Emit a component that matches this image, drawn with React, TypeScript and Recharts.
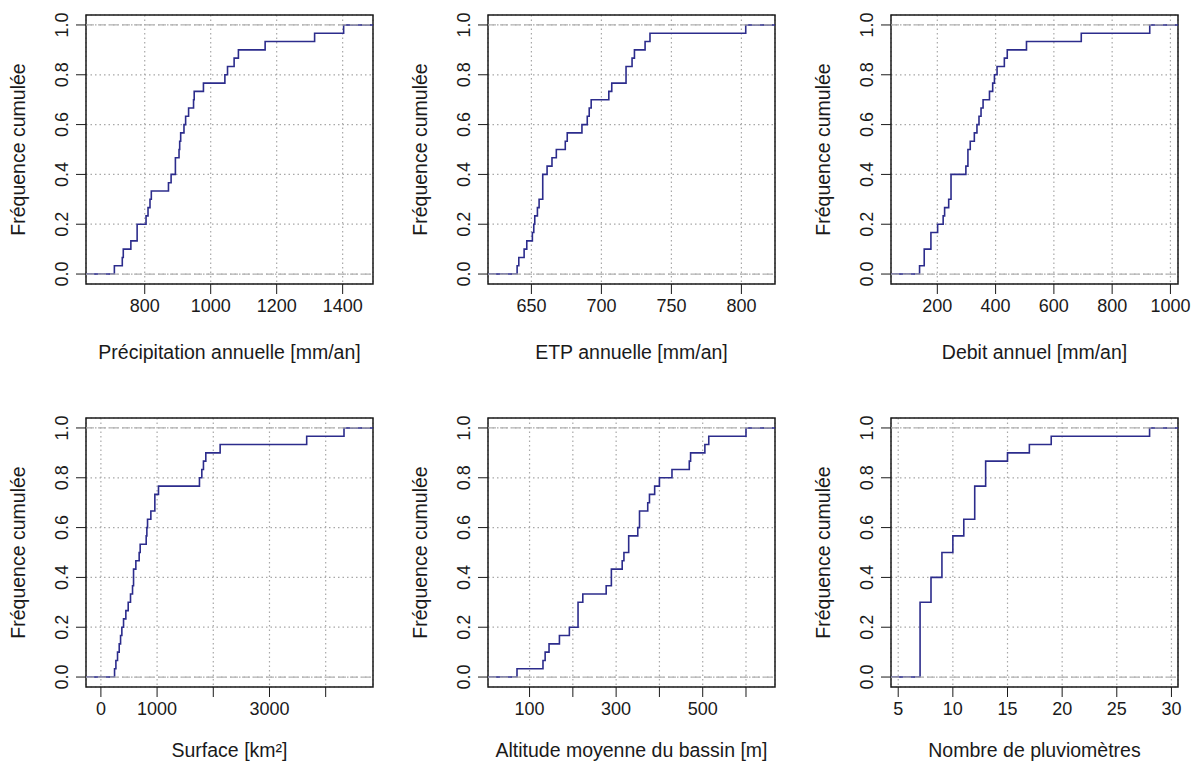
import { LineChart, Line, XAxis, YAxis, CartesianGrid, ReferenceLine, ReferenceArea, Label } from "recharts";

// sorted observations (30 basins), read from the ECDF steps
const precipitation = [708, 732, 735, 758, 777, 777, 804, 810, 816, 820, 872, 880, 893, 893, 904, 906, 909, 919, 924, 933, 948, 950, 978, 1043, 1051, 1071, 1084, 1165, 1315, 1403];
const etp = [639.8, 641, 644.8, 646.7, 650.7, 651.7, 652.4, 654.3, 655.5, 658.1, 658.1, 658.1, 661.2, 664.7, 667.8, 674.2, 675.6, 686.1, 689.9, 691.3, 692.7, 705.3, 707.4, 717.6, 717.6, 721.9, 723.6, 731.2, 734.7, 803.1];
const debit = [139, 155, 155, 178, 178, 201, 220, 225, 239, 247, 247, 247, 298, 305, 305, 313, 327, 336, 343, 350, 357, 379, 390, 396, 405, 430, 440, 506, 694, 929];
const surface = [243, 267, 296, 326, 350, 373, 403, 444, 486, 527, 563, 581, 581, 622, 681, 699, 806, 818, 830, 889, 960, 960, 1025, 1754, 1796, 1825, 1867, 2122, 3662, 4326];
const altitude = [71, 131, 136, 145, 169, 192, 212, 212, 212, 223, 277, 289, 289, 314, 318, 329, 329, 350, 354, 354, 373, 377, 389, 400, 429, 469, 472, 505, 514, 600];
const pluvio = [7, 7, 7, 7, 7, 7, 7, 7, 7, 8, 8, 8, 9, 9, 9, 10, 10, 11, 11, 12, 12, 12, 12, 13, 13, 13, 15, 17, 19, 28];

const yTicks = [0, 0.2, 0.4, 0.6, 0.8, 1];

const panels = [
  { title: "Précipitation annuelle [mm/an]", values: precipitation, domain: [622, 1492], ticks: [800, 1000, 1200, 1400], labels: [800, 1000, 1200, 1400] },
  { title: "ETP annuelle [mm/an]", values: etp, domain: [619, 824], ticks: [650, 700, 750, 800], labels: [650, 700, 750, 800] },
  { title: "Debit annuel [mm/an]", values: debit, domain: [41, 1026], ticks: [200, 400, 600, 800, 1000], labels: [200, 400, 600, 800, 1000] },
  { title: "Surface [km²]", values: surface, domain: [-265, 4842], ticks: [0, 1000, 2000, 3000, 4000], labels: [0, 1000, 3000] },
  { title: "Altitude moyenne du bassin [m]", values: altitude, domain: [4, 667], ticks: [100, 200, 300, 400, 500, 600], labels: [100, 300, 500] },
  { title: "Nombre de pluviomètres", values: pluvio, domain: [4.34, 30.6], ticks: [5, 10, 15, 20, 25, 30], labels: [5, 10, 15, 20, 25, 30] },
];

const INK = "#1a1a1a";
const FONT = 18;
const TITLE_FONT = 19.5;

function ecdf(values: number[], domain: number[]) {
  const n = values.length;
  return [
    { x: domain[0], y: 0 },
    ...values.map((v, i) => ({ x: v, y: (i + 1) / n })),
    { x: domain[1], y: 1 },
  ];
}

function Panel({ p, left, top, titleGap }: { p: any; left: number; top: number; titleGap: number }) {
  const data = ecdf(p.values, p.domain);
  return (
    <div style={{ position: "absolute", left, top }}>
      <LineChart width={388} height={364} data={data} margin={{ top: 15, right: 15, bottom: 0, left: 0 }}>
        <CartesianGrid stroke="#a8a8a8" strokeWidth={1.2} strokeDasharray="1.5 3" />
        <XAxis
          dataKey="x"
          type="number"
          domain={p.domain}
          ticks={p.ticks}
          allowDataOverflow
          height={80}
          tickSize={10}
          tickMargin={4}
          axisLine={false}
          tickLine={{ stroke: INK }}
          tick={({ x, y, payload }: any) => (
            <text x={x} y={y} dy="0.75em" textAnchor="middle" fontSize={FONT} fill={INK}>
              {p.labels.includes(payload.value) ? payload.value : ""}
            </text>
          )}
        >
          <Label
            content={({ viewBox }: any) => (
              <text x={viewBox.x + viewBox.width / 2} y={viewBox.y + titleGap} textAnchor="middle" dominantBaseline="central" fontSize={TITLE_FONT} fill={INK}>
                {p.title}
              </text>
            )}
          />
        </XAxis>
        <YAxis
          type="number"
          domain={[-0.04, 1.04]}
          ticks={yTicks}
          allowDataOverflow
          width={86}
          tickSize={10}
          tickMargin={2}
          axisLine={false}
          tickLine={{ stroke: INK }}
          tick={({ x, y, payload }: any) => (
            <text x={x - 12} y={y} transform={`rotate(-90, ${x - 12}, ${y})`} textAnchor="middle" dominantBaseline="central" fontSize={FONT} fill={INK}>
              {payload.value.toFixed(1)}
            </text>
          )}
        >
          <Label
            content={({ viewBox }: any) => (
              <text x={18} y={viewBox.y + viewBox.height / 2} transform={`rotate(-90, 18, ${viewBox.y + viewBox.height / 2})`} textAnchor="middle" dominantBaseline="central" fontSize={TITLE_FONT} fill={INK}>
                Fréquence cumulée
              </text>
            )}
          />
        </YAxis>
        <Line dataKey="y" type="stepAfter" stroke="#2c2c8c" strokeWidth={1.6} dot={false} isAnimationActive={false} />
        <ReferenceLine y={0} stroke="#b3b3b3" strokeWidth={1.3} strokeDasharray="8 4" />
        <ReferenceLine y={1} stroke="#b3b3b3" strokeWidth={1.3} strokeDasharray="8 4" />
        <ReferenceArea x1={p.domain[0]} x2={p.domain[1]} y1={-0.04} y2={1.04} fill="none" stroke={INK} strokeWidth={1.5} />
      </LineChart>
    </div>
  );
}

export default function App() {
  const lefts = [0, 402, 805];
  const tops = [0, 403];
  return (
    <div style={{ position: "absolute", left: 0, top: 0, width: 1193, height: 763, overflow: "hidden", background: "#fff", fontFamily: "'Liberation Sans', Arial, sans-serif" }}>
      {panels.map((p, i) => (
        <Panel key={p.title} p={p} left={lefts[i % 3]} top={tops[Math.floor(i / 3)]} titleGap={i < 3 ? 68 : 63} />
      ))}
    </div>
  );
}
